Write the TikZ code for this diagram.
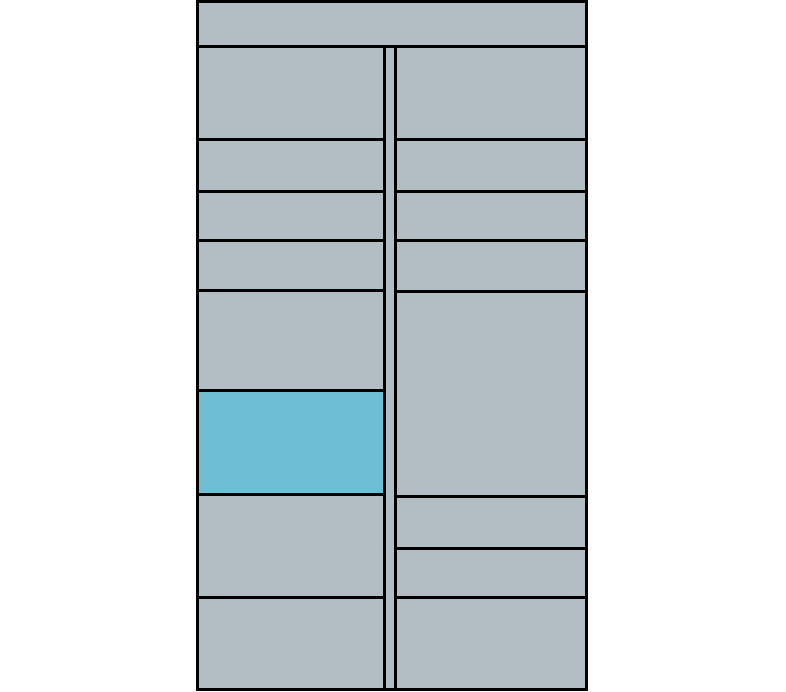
\documentclass[tikz,border=0pt]{standalone}
\usepackage{tikz}
\definecolor{cellgray}{HTML}{B2BEC4}
\definecolor{cellblue}{HTML}{6EBFD5}
\tikzset{cell/.style={draw=black, line width=3pt, fill=cellgray, line join=miter},
  bluecell/.style={cell, fill=cellblue}}
\begin{document}
\begin{tikzpicture}[x=1pt,y=-1pt]
\useasboundingbox (0,0) rectangle (786,691);
% top band
\draw[cell] (197.5,1.5) rectangle (586.5,46);
% middle strip
\draw[cell] (384.5,46) rectangle (395,689);
% left column
\draw[cell] (197.5,46) rectangle (384.5,139);
\draw[cell] (197.5,139) rectangle (384.5,191);
\draw[cell] (197.5,191) rectangle (384.5,240);
\draw[cell] (197.5,240) rectangle (384.5,290);
\draw[cell] (197.5,290) rectangle (384.5,390);
\draw[bluecell] (197.5,390) rectangle (384.5,494);
\draw[cell] (197.5,494) rectangle (384.5,597);
\draw[cell] (197.5,597) rectangle (384.5,689);
% right column
\draw[cell] (395,46) rectangle (586.5,139);
\draw[cell] (395,139) rectangle (586.5,191);
\draw[cell] (395,191) rectangle (586.5,240);
\draw[cell] (395,240) rectangle (586.5,291);
\draw[cell] (395,291) rectangle (586.5,496);
\draw[cell] (395,496) rectangle (586.5,548);
\draw[cell] (395,548) rectangle (586.5,597);
\draw[cell] (395,597) rectangle (586.5,689);
\end{tikzpicture}
\end{document}
